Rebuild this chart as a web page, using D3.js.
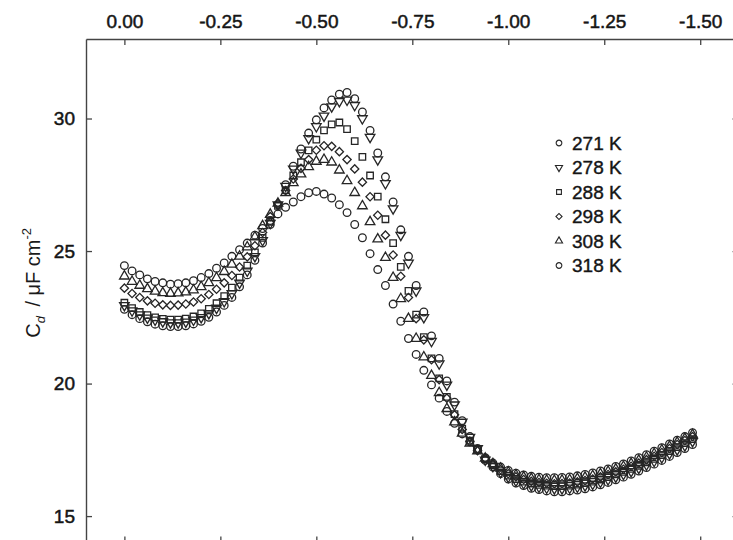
<!DOCTYPE html>
<html>
<head>
<meta charset="utf-8">
<script src="https://cdn.jsdelivr.net/npm/d3@7"></script>
<style>
  body { margin: 0; background: #fff; }
  svg { display: block; font-family: "Liberation Sans", Arial, sans-serif; }
</style>
</head>
<body>
<div id="chart"></div>
<script>
// potential / V (top axis), sampled every 20 mV
const potentials = [0, -0.02, -0.04, -0.06, -0.08, -0.10, -0.12, -0.14, -0.16, -0.18,
  -0.20, -0.22, -0.24, -0.26, -0.28, -0.30, -0.32, -0.34, -0.36, -0.38,
  -0.40, -0.42, -0.44, -0.46, -0.48, -0.50, -0.52, -0.54, -0.56, -0.58,
  -0.60, -0.62, -0.64, -0.66, -0.68, -0.70, -0.72, -0.74, -0.76, -0.78,
  -0.80, -0.82, -0.84, -0.86, -0.88, -0.90, -0.92, -0.94, -0.96, -0.98,
  -1.00, -1.02, -1.04, -1.06, -1.08, -1.10, -1.12, -1.14, -1.16, -1.18,
  -1.20, -1.22, -1.24, -1.26, -1.28, -1.30, -1.32, -1.34, -1.36, -1.38,
  -1.40, -1.42, -1.44, -1.46, -1.48];

// Cd / uF cm-2 for each temperature
const c271 = [22.8, 22.6, 22.45, 22.33, 22.24, 22.18, 22.15, 22.15, 22.18, 22.25,
  22.35, 22.5, 22.7, 22.95, 23.25, 23.65, 24.1, 24.65, 25.3, 26.0,
  26.75, 27.5, 28.2, 28.85, 29.45, 29.95, 30.4, 30.7, 30.92, 30.98,
  30.75, 30.25, 29.55, 28.7, 27.8, 26.85, 25.8, 24.8, 23.7, 22.7,
  21.8, 20.95, 20.1, 19.3, 18.6, 18.0, 17.55, 17.1, 16.85, 16.6,
  16.4, 16.25, 16.15, 16.05, 16.0, 15.95, 15.92, 15.92, 15.95, 15.98,
  16.03, 16.1, 16.18, 16.27, 16.37, 16.47, 16.58, 16.7, 16.83, 16.96,
  17.1, 17.25, 17.4, 17.55, 17.7];
const c278 = [22.95, 22.75, 22.6, 22.48, 22.4, 22.34, 22.3, 22.3, 22.33, 22.4,
  22.5, 22.65, 22.85, 23.1, 23.4, 23.8, 24.25, 24.8, 25.4, 26.05,
  26.75, 27.45, 28.1, 28.7, 29.25, 29.7, 30.1, 30.45, 30.65, 30.7,
  30.5, 30.0, 29.3, 28.45, 27.55, 26.6, 25.6, 24.55, 23.5, 22.5,
  21.6, 20.75, 19.95, 19.2, 18.55, 17.98, 17.55, 17.12, 16.88, 16.65,
  16.47, 16.33, 16.23, 16.15, 16.1, 16.06, 16.04, 16.04, 16.06, 16.1,
  16.15, 16.21, 16.29, 16.38, 16.48, 16.58, 16.69, 16.81, 16.94, 17.07,
  17.21, 17.36, 17.51, 17.66, 17.82];
const c288 = [23.05, 22.85, 22.7, 22.58, 22.5, 22.44, 22.41, 22.41, 22.45, 22.53,
  22.65, 22.82, 23.03, 23.3, 23.62, 24.0, 24.45, 24.95, 25.5, 26.1,
  26.7, 27.3, 27.85, 28.35, 28.8, 29.2, 29.55, 29.78, 29.85, 29.6,
  29.15, 28.55, 27.85, 27.05, 26.2, 25.3, 24.4, 23.5, 22.6, 21.75,
  20.95, 20.2, 19.5, 18.85, 18.3, 17.85, 17.5, 17.15, 16.92, 16.7,
  16.53, 16.4, 16.3, 16.23, 16.18, 16.15, 16.13, 16.13, 16.15, 16.19,
  16.24, 16.3, 16.38, 16.47, 16.57, 16.67, 16.78, 16.9, 17.03, 17.16,
  17.3, 17.45, 17.6, 17.75, 17.9];
const c298 = [23.6, 23.4, 23.25, 23.12, 23.03, 22.97, 22.95, 22.96, 23.0, 23.08,
  23.2, 23.36, 23.56, 23.8, 24.08, 24.4, 24.78, 25.2, 25.7, 26.3,
  26.8, 27.28, 27.72, 28.12, 28.45, 28.8, 28.97, 28.95, 28.75, 28.45,
  28.1, 27.6, 27.05, 26.35, 25.6, 24.85, 24.05, 23.25, 22.45, 21.65,
  20.9, 20.15, 19.45, 18.82, 18.27, 17.82, 17.47, 17.17, 16.95, 16.75,
  16.6, 16.48, 16.38, 16.31, 16.27, 16.24, 16.22, 16.23, 16.25, 16.29,
  16.34, 16.4, 16.48, 16.57, 16.67, 16.77, 16.88, 17.0, 17.13, 17.26,
  17.4, 17.55, 17.7, 17.85, 18.0];
const c308 = [24.05, 23.85, 23.7, 23.57, 23.48, 23.42, 23.4, 23.41, 23.45, 23.53,
  23.65, 23.8, 23.99, 24.22, 24.5, 24.8, 25.15, 25.53, 25.95, 26.38,
  26.8, 27.2, 27.57, 27.9, 28.18, 28.38, 28.45, 28.35, 28.05, 27.65,
  27.2, 26.7, 26.1, 25.45, 24.75, 24.0, 23.2, 22.45, 21.7, 21.0,
  20.3, 19.65, 19.05, 18.55, 18.12, 17.75, 17.45, 17.18, 16.97, 16.8,
  16.66, 16.55, 16.47, 16.41, 16.37, 16.35, 16.34, 16.35, 16.37, 16.41,
  16.46, 16.52, 16.59, 16.68, 16.77, 16.87, 16.98, 17.1, 17.22, 17.35,
  17.49, 17.63, 17.78, 17.92, 18.07];
const c318 = [24.45, 24.25, 24.1, 23.95, 23.85, 23.8, 23.75, 23.77, 23.8, 23.88,
  24.0, 24.15, 24.35, 24.55, 24.8, 25.05, 25.3, 25.6, 25.85, 26.15,
  26.4, 26.65, 26.85, 27.05, 27.2, 27.25, 27.15, 27.0, 26.75, 26.45,
  26.0, 25.5, 24.9, 24.3, 23.7, 23.0, 22.35, 21.7, 21.1, 20.5,
  19.95, 19.45, 18.95, 18.5, 18.1, 17.8, 17.5, 17.2, 17.0, 16.85,
  16.72, 16.62, 16.55, 16.5, 16.47, 16.45, 16.45, 16.46, 16.48, 16.52,
  16.57, 16.63, 16.7, 16.78, 16.87, 16.97, 17.08, 17.2, 17.32, 17.45,
  17.58, 17.72, 17.86, 18.0, 18.15];

const temps = ["271 K", "278 K", "288 K", "298 K", "308 K", "318 K"];
const seriesValues = [c271, c278, c288, c298, c308, c318];
const xTicks = [0, -0.25, -0.5, -0.75, -1.0, -1.25, -1.5];
const yTicks = [15, 20, 25, 30];

const width = 733;
const height = 540;
const ink = "#262626";

// marker per series: symbol type, area, rotation
const markers = [
  { type: d3.symbolCircle, size: 46, rot: 0 },
  { type: d3.symbolTriangle, size: 40, rot: 180 },
  { type: d3.symbolSquare, size: 42, rot: 0 },
  { type: d3.symbolSquare, size: 34, rot: 45 },
  { type: d3.symbolTriangle, size: 40, rot: 0 },
  { type: d3.symbolCircle, size: 46, rot: 0 }
];

const x = d3.scaleLinear().domain([0.1, -1.6]).range([86, 738.6]);
const y = d3.scaleLinear().domain([14, 33]).range([542.6, 39]);

const svg = d3.select("#chart")
  .append("svg")
  .attr("width", width)
  .attr("height", height)
  .attr("viewBox", [0, 0, width, height]);

// axes (ticks point inward)
const topAxis = svg.append("g")
  .attr("transform", `translate(0,${y(33)})`)
  .call(d3.axisTop(x).tickValues(xTicks).tickFormat(d => d.toFixed(2))
    .tickSizeInner(-6).tickSizeOuter(0).tickPadding(11));

const bottomAxis = svg.append("g")
  .attr("transform", `translate(0,${y(14)})`)
  .call(d3.axisBottom(x).tickValues(xTicks).tickFormat("")
    .tickSizeInner(-6).tickSizeOuter(0));

const leftAxis = svg.append("g")
  .attr("transform", `translate(${x(0.1)},0)`)
  .call(d3.axisLeft(y).tickValues(yTicks).tickFormat(d3.format("d"))
    .tickSizeInner(-6).tickSizeOuter(0).tickPadding(11));

const rightAxis = svg.append("g")
  .attr("transform", `translate(${x(-1.6)},0)`)
  .call(d3.axisRight(y).tickValues(yTicks).tickFormat("")
    .tickSizeInner(-6).tickSizeOuter(0));

[topAxis, bottomAxis, leftAxis, rightAxis].forEach(g => {
  g.select(".domain").attr("stroke", "#444").attr("stroke-width", 1.4);
  g.selectAll(".tick line").attr("stroke", "#444").attr("stroke-width", 1.3);
  g.selectAll(".tick text")
    .attr("fill", "#151515")
    .attr("stroke", "#151515")
    .attr("stroke-width", 0.5)
    .style("font-size", "19px");
});

// y axis title
const yTitle = svg.append("text")
  .attr("transform", `translate(40,${y(23.8)}) rotate(-90)`)
  .attr("text-anchor", "middle")
  .attr("fill", "#1a1a1a")
  .style("font-size", "20px");
yTitle.append("tspan").text("C");
yTitle.append("tspan").text("d").style("font-style", "italic")
  .style("font-size", "13px").attr("dy", 5);
yTitle.append("tspan").text(" / μF cm").attr("dy", -5).attr("dx", 4);
yTitle.append("tspan").text("-2").style("font-size", "13px").attr("dy", -9);

// data points
const plot = svg.append("g");
seriesValues.forEach((vals, s) => {
  const m = markers[s];
  const path = d3.symbol(m.type, m.size)();
  plot.append("g")
    .selectAll("path")
    .data(vals.map((v, i) => [potentials[i], v]))
    .join("path")
    .attr("d", path)
    .attr("transform", d => `translate(${x(d[0])},${y(d[1])}) rotate(${m.rot})`)
    .attr("fill", "none")
    .attr("stroke", ink)
    .attr("stroke-width", 1.3);
});

// legend
const legend = svg.append("g").attr("transform", "translate(559,143)");
temps.forEach((t, s) => {
  const m = markers[s];
  const row = legend.append("g").attr("transform", `translate(0,${s * 24.5})`);
  row.append("path")
    .attr("d", d3.symbol(m.type, m.size * 0.55)())
    .attr("transform", `rotate(${m.rot})`)
    .attr("fill", "none")
    .attr("stroke", ink)
    .attr("stroke-width", 1.1);
  row.append("text")
    .attr("x", 13)
    .attr("dy", "0.36em")
    .attr("fill", "#151515")
    .attr("stroke", "#151515")
    .attr("stroke-width", 0.4)
    .style("font-size", "19px")
    .text(t);
});
</script>
</body>
</html>
